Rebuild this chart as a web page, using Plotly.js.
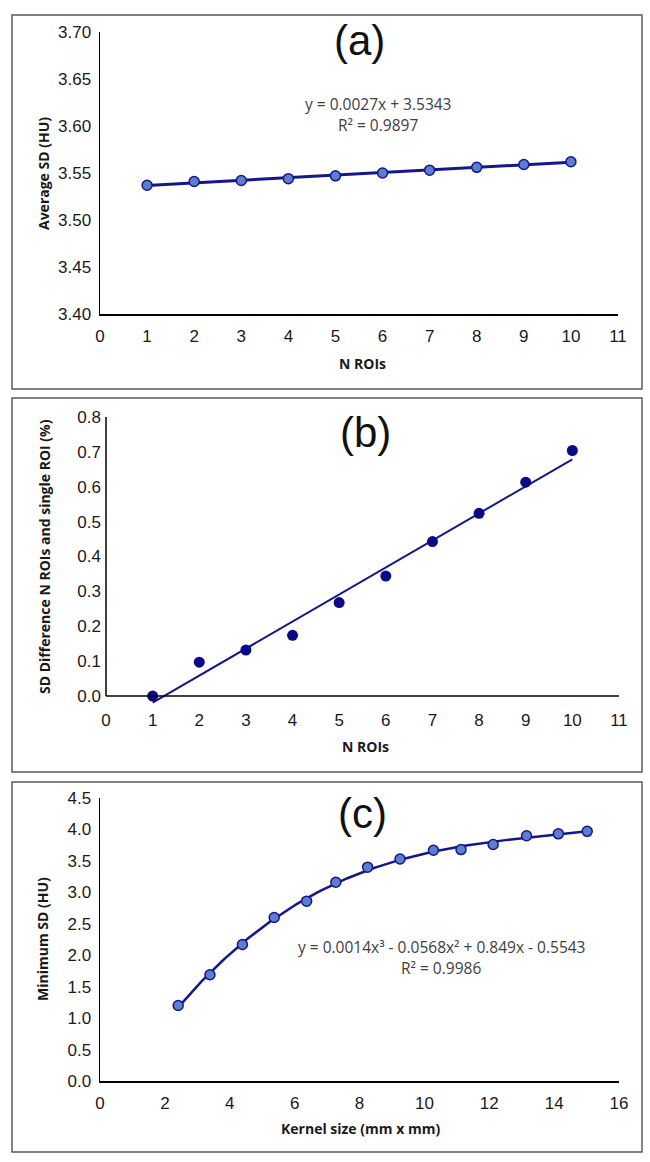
<!DOCTYPE html>
<html>
<head>
<meta charset="utf-8">
<script src="https://cdn.plot.ly/plotly-3.0.1.min.js"></script>
<style>
  html, body { margin: 0; padding: 0; background: #ffffff; }
  #chart { width: 650px; height: 1162px; }
</style>
</head>
<body>
<div id="chart"></div>
<script>
// ---------------- DATA ----------------
// Panel (a): Average SD vs number of ROIs
const aNROIs = [1, 2, 3, 4, 5, 6, 7, 8, 9, 10];
const aAverageSD = [3.537, 3.541, 3.542, 3.544, 3.547, 3.550, 3.553, 3.556, 3.559, 3.562];
const aEquation = ["y = 0.0027x + 3.5343", "R² = 0.9897"];

// Panel (b): SD difference between N ROIs and single ROI (%)
const bNROIs = [1, 2, 3, 4, 5, 6, 7, 8, 9, 10];
const bSDDiff = [0.000, 0.097, 0.132, 0.174, 0.268, 0.344, 0.443, 0.524, 0.613, 0.704];

// Panel (c): Minimum SD vs kernel size
const cKernel = [2.41, 3.39, 4.39, 5.37, 6.37, 7.27, 8.25, 9.25, 10.28, 11.13, 12.12, 13.15, 14.13, 15.02];
const cMinSD = [1.20, 1.69, 2.17, 2.60, 2.86, 3.16, 3.40, 3.53, 3.67, 3.68, 3.76, 3.90, 3.93, 3.97];
const cEquation = ["y = 0.0014x³ - 0.0568x² + 0.849x - 0.5543", "R² = 0.9986"];

// Tick values
const aYTicks = [3.40, 3.45, 3.50, 3.55, 3.60, 3.65, 3.70];
const abXTicks = [0, 1, 2, 3, 4, 5, 6, 7, 8, 9, 10, 11];
const bYTicks = [0, 0.1, 0.2, 0.3, 0.4, 0.5, 0.6, 0.7, 0.8];
const cYTicks = [0, 0.5, 1.0, 1.5, 2.0, 2.5, 3.0, 3.5, 4.0, 4.5];
const cXTicks = [0, 2, 4, 6, 8, 10, 12, 14, 16];

// ---------------- least-squares polynomial trendline ----------------
function polyfit(xs, ys, deg) {
  const n = deg + 1;
  const A = [];
  for (let i = 0; i < n; i++) {
    A.push(new Array(n + 1).fill(0));
  }
  for (let k = 0; k < xs.length; k++) {
    for (let i = 0; i < n; i++) {
      for (let j = 0; j < n; j++) A[i][j] += Math.pow(xs[k], i + j);
      A[i][n] += ys[k] * Math.pow(xs[k], i);
    }
  }
  for (let i = 0; i < n; i++) {
    let p = i;
    for (let r = i + 1; r < n; r++) if (Math.abs(A[r][i]) > Math.abs(A[p][i])) p = r;
    [A[i], A[p]] = [A[p], A[i]];
    for (let r = 0; r < n; r++) {
      if (r === i) continue;
      const f = A[r][i] / A[i][i];
      for (let c = i; c <= n; c++) A[r][c] -= f * A[i][c];
    }
  }
  return A.map((row, i) => row[n] / row[i]);
}
function trend(xs, ys, deg, steps) {
  const coef = polyfit(xs, ys, deg);
  const x0 = Math.min(...xs), x1 = Math.max(...xs);
  const tx = [], ty = [];
  for (let s = 0; s <= steps; s++) {
    const x = x0 + (x1 - x0) * s / steps;
    let y = 0;
    coef.forEach((c, i) => { y += c * Math.pow(x, i); });
    tx.push(x); ty.push(y);
  }
  return { x: tx, y: ty };
}

const aTrend = trend(aNROIs, aAverageSD, 1, 2);
const bTrend = trend(bNROIs, bSDDiff, 1, 2);
const cTrend = trend(cKernel, cMinSD, 3, 120);

// ---------------- styles ----------------
const NAVY = '#16168c';
const FILL = '#5a7fcf';
const tickFont = { family: 'Liberation Sans, Arial, sans-serif', size: 17, color: '#1a1a1a' };
const titleFont = { family: 'Open Sans, sans-serif', size: 14, color: '#1a1a1a', weight: 'bold' };
const eqFont = { family: 'Open Sans, sans-serif', size: 15.5, color: '#404040' };
const panelFont = { family: 'Liberation Sans, Arial, sans-serif', size: 42, color: '#111111' };

const W = 650, H = 1162;
const px = v => v / W;
const py = v => 1 - v / H;

const traces = [
  { x: aTrend.x, y: aTrend.y, xaxis: 'x', yaxis: 'y', mode: 'lines',
    line: { color: NAVY, width: 3 }, hoverinfo: 'skip' },
  { x: aNROIs, y: aAverageSD, xaxis: 'x', yaxis: 'y', mode: 'markers',
    marker: { size: 10, color: FILL, line: { color: NAVY, width: 1.5 } } },
  { x: bTrend.x, y: bTrend.y, xaxis: 'x2', yaxis: 'y2', mode: 'lines',
    line: { color: NAVY, width: 2 }, hoverinfo: 'skip' },
  { x: bNROIs, y: bSDDiff, xaxis: 'x2', yaxis: 'y2', mode: 'markers',
    marker: { size: 11, color: '#0a0a86' } },
  { x: cTrend.x, y: cTrend.y, xaxis: 'x3', yaxis: 'y3', mode: 'lines',
    line: { color: NAVY, width: 2.5 }, hoverinfo: 'skip' },
  { x: cKernel, y: cMinSD, xaxis: 'x3', yaxis: 'y3', mode: 'markers',
    marker: { size: 10, color: FILL, line: { color: NAVY, width: 1.5 } } }
];

const bYMin = -0.04, bYMax = 0.8;

function xAxis(domain, range, tickvals, anchor, showline, standoff) {
  return { domain: domain, range: range, tickvals: tickvals, anchor: anchor,
    showgrid: false, zeroline: false, showline: showline, linecolor: '#000', linewidth: 1.5,
    ticks: '', tickfont: tickFont, fixedrange: true, ticklabelstandoff: standoff };
}
function yAxis(domain, range, tickvals, fmt, anchor, showline) {
  return { domain: domain, range: range, tickvals: tickvals, tickformat: fmt, anchor: anchor,
    showgrid: false, zeroline: false, showline: showline, linecolor: '#000', linewidth: 1.5,
    ticks: '', tickfont: tickFont, fixedrange: true, ticklabelstandoff: 4 };
}

function note(text, x, y, font, angle) {
  return { text: text, xref: 'paper', yref: 'paper', x: px(x), y: py(y),
    xanchor: 'center', yanchor: 'middle', showarrow: false, font: font, textangle: angle || 0 };
}

const layout = {
  width: W, height: H,
  margin: { l: 0, r: 0, t: 0, b: 0 },
  paper_bgcolor: '#ffffff', plot_bgcolor: 'rgba(0,0,0,0)',
  showlegend: false,
  xaxis: xAxis([px(100), px(618)], [0, 11], abXTicks, 'y', true, 6),
  yaxis: yAxis([py(314), py(32)], [3.40, 3.70], aYTicks, '.2f', 'x', true),
  xaxis2: xAxis([px(106), px(619)], [0, 11], abXTicks, 'y2', false, -2),
  yaxis2: yAxis([py(710), py(417)], [bYMin, bYMax], bYTicks, '.1f', 'x2', false),
  xaxis3: xAxis([px(100), px(619)], [0, 16], cXTicks, 'y3', true, 6),
  yaxis3: yAxis([py(1081), py(798)], [0, 4.5], cYTicks, '.1f', 'x3', true),
  shapes: [
    { type: 'rect', xref: 'paper', yref: 'paper', x0: px(12), x1: px(642), y0: py(389), y1: py(15),
      line: { color: '#5a5a5a', width: 1.5 } },
    { type: 'rect', xref: 'paper', yref: 'paper', x0: px(12), x1: px(642), y0: py(772), y1: py(398),
      line: { color: '#5a5a5a', width: 1.5 } },
    { type: 'rect', xref: 'paper', yref: 'paper', x0: px(12), x1: px(642), y0: py(1152), y1: py(782),
      line: { color: '#5a5a5a', width: 1.5 } },
    // panel (b) axis lines at y = 0
    { type: 'line', xref: 'x2 domain', yref: 'y2 domain', x0: 0, x1: 1,
      y0: -bYMin / (bYMax - bYMin), y1: -bYMin / (bYMax - bYMin), line: { color: '#000', width: 1.5 } },
    { type: 'line', xref: 'x2 domain', yref: 'y2 domain', x0: 0, x1: 0,
      y0: -bYMin / (bYMax - bYMin), y1: 1, line: { color: '#000', width: 1.5 } }
  ],
  annotations: [
    note('(a)', 359, 40, panelFont),
    note('(b)', 365, 432, panelFont),
    note('(c)', 362, 813, panelFont),
    note(aEquation[0], 378, 104, eqFont),
    note(aEquation[1], 378, 125, eqFont),
    note(cEquation[0], 441, 947, eqFont),
    note(cEquation[1], 441, 968, eqFont),
    note('N ROIs', 362, 363, titleFont),
    note('N ROIs', 365, 746, titleFont),
    note('Kernel size (mm x mm)', 360, 1128, titleFont),
    note('Average SD (HU)', 43, 174, titleFont, -90),
    note('SD Difference N ROIs and single ROI (%)', 44, 557, titleFont, -90),
    note('Minimum SD (HU)', 42, 939, titleFont, -90)
  ]
};

Plotly.newPlot('chart', traces, layout, { displayModeBar: false, staticPlot: true });
</script>
</body>
</html>
